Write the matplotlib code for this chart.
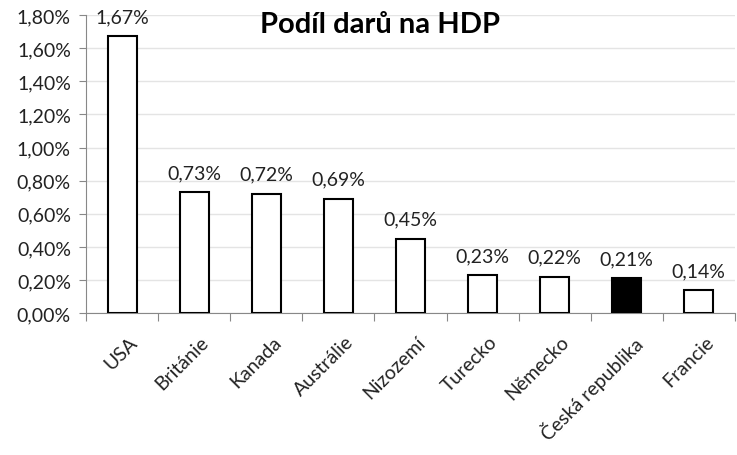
import matplotlib.pyplot as plt
import numpy as np

countries = ['USA', 'Británie', 'Kanada', 'Austrálie', 'Nizozemí',
             'Turecko', 'Německo', 'Česká republika', 'Francie']
shares = [1.67, 0.73, 0.72, 0.69, 0.45, 0.23, 0.22, 0.21, 0.14]
highlight = 'Česká republika'

plt.rcParams['font.family'] = ['Lato', 'DejaVu Sans']

fig = plt.figure(figsize=(7.37, 4.56), dpi=100)
ax = fig.add_axes([0.117, 0.311, 0.88, 0.654])

x = np.arange(len(countries))
colors = ['black' if c == highlight else 'white' for c in countries]
bars = ax.bar(x, shares, width=0.4, color=colors, edgecolor='black', linewidth=1.5, zorder=3)

for xi, v in zip(x, shares):
    ax.annotate(f'{v:.2f}%'.replace('.', ','), (xi, v), xytext=(0, 8),
                textcoords='offset points', ha='center', va='bottom',
                fontsize=14, color='#222222')

ax.set_xlim(-0.5, len(countries) - 0.5)
ax.set_ylim(0, 1.8)
yt = np.arange(0, 1.81, 0.2)
ax.set_yticks(yt)
ax.set_yticklabels([f'{t:.2f}%'.replace('.', ',') for t in yt], fontsize=14, color='#222222')
ax.yaxis.grid(True, color='#e4e4e4', linewidth=1, zorder=0)

ax.set_xticks(np.arange(-0.5, len(countries), 1.0))
ax.set_xticklabels([])
ax.set_xticks(x + 0.08, minor=True)
ax.set_xticklabels(countries, minor=True, rotation=45, ha='right', rotation_mode='anchor',
                   fontsize=14, color='#222222')
ax.tick_params(axis='x', which='minor', length=0, pad=14)
ax.tick_params(axis='x', which='major', length=6, color='#888888')
ax.tick_params(axis='y', length=5, color='#888888', pad=6)

for s in ['top', 'right']:
    ax.spines[s].set_visible(False)
for s in ['left', 'bottom']:
    ax.spines[s].set_color('#888888')

fig.text(0.515, 0.945, 'Podíl darů na HDP', ha='center', va='center',
         fontsize=21, fontweight='bold')

fig.savefig('out.png', dpi=100)
